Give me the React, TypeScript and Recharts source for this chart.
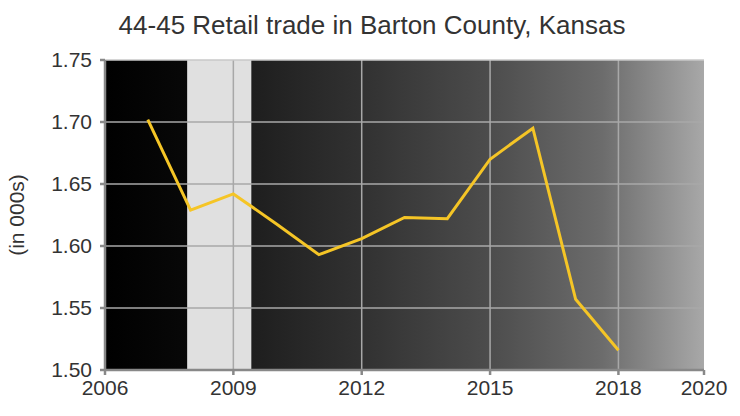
import {
  LineChart,
  Line,
  XAxis,
  YAxis,
  ReferenceArea,
  ReferenceLine,
} from "recharts";

const years = [2007, 2008, 2009, 2010, 2011, 2012, 2013, 2014, 2015, 2016, 2017, 2018];
const values = [1.702, 1.629, 1.642, 1.618, 1.593, 1.606, 1.623, 1.622, 1.67, 1.695, 1.557, 1.516];
const xTicks = [2006, 2009, 2012, 2015, 2018, 2020];
const yTicks = [1.5, 1.55, 1.6, 1.65, 1.7, 1.75];
const recession = [2007.92, 2009.42];

const data = years.map((year, i) => ({ year, value: values[i] }));

const font = "Arial, Liberation Sans, sans-serif";
const tickStyle = { fill: "#333", fontSize: 21, fontFamily: font };

export default function App() {
  return (
    <div style={{ position: "absolute", left: 0, top: 0, width: 740, height: 416, background: "#fff" }}>
      <div
        style={{
          position: "absolute",
          top: 10,
          left: 2,
          width: 740,
          textAlign: "center",
          fontFamily: font,
          fontSize: 26,
          lineHeight: "30px",
          color: "#333",
        }}
      >
        44-45 Retail trade in Barton County, Kansas
      </div>
      <LineChart width={740} height={416} data={data} margin={{ top: 60, right: 36, bottom: 0, left: 0 }}>
        <defs>
          <linearGradient id="bg" x1="0" y1="0" x2="1" y2="0">
            <stop offset="0" stopColor="#000" />
            <stop offset="0.14" stopColor="#080808" />
            <stop offset="0.245" stopColor="#1e1e1e" />
            <stop offset="0.45" stopColor="#343434" />
            <stop offset="0.64" stopColor="#4c4c4c" />
            <stop offset="0.83" stopColor="#6c6c6c" />
            <stop offset="1" stopColor="#a8a8a8" />
          </linearGradient>
        </defs>
        <XAxis
          dataKey="year"
          type="number"
          domain={[2006, 2020]}
          ticks={xTicks}
          tick={tickStyle}
          stroke="#888"
          strokeWidth={2.5}
          tickLine={{ stroke: "#888" }}
          tickSize={5}
          tickMargin={5}
          height={46}
        />
        <YAxis
          type="number"
          domain={[1.5, 1.75]}
          ticks={yTicks}
          tick={tickStyle}
          tickFormatter={(v: number) => v.toFixed(2)}
          stroke="#888"
          strokeWidth={2.5}
          tickSize={5}
          tickMargin={8}
          width={105}
          label={{
            value: "(in 000s)",
            angle: -90,
            position: "insideLeft",
            offset: 17,
            style: { fill: "#333", fontSize: 21, fontFamily: font, textAnchor: "middle" },
          }}
        />
        <ReferenceArea x1={2006} x2={2020} y1={1.5} y2={1.75} fill="url(#bg)" fillOpacity={1} stroke="none" />
        <ReferenceArea x1={recession[0]} x2={recession[1]} y1={1.5} y2={1.75} fill="#e0e0e0" fillOpacity={1} stroke="none" />
        {yTicks.slice(1, -1).map((t) => (
          <ReferenceLine key={"y" + t} y={t} stroke="#a8a8a8" strokeWidth={1.5} />
        ))}
        {xTicks.slice(1, -1).map((t) => (
          <ReferenceLine key={"x" + t} x={t} stroke="#a8a8a8" strokeWidth={1.5} />
        ))}
        <ReferenceLine y={1.75} stroke="#c8c8c8" strokeWidth={1.5} />
        <Line
          type="linear"
          dataKey="value"
          stroke="#f5c526"
          strokeWidth={3}
          dot={false}
          isAnimationActive={false}
        />
      </LineChart>
    </div>
  );
}
